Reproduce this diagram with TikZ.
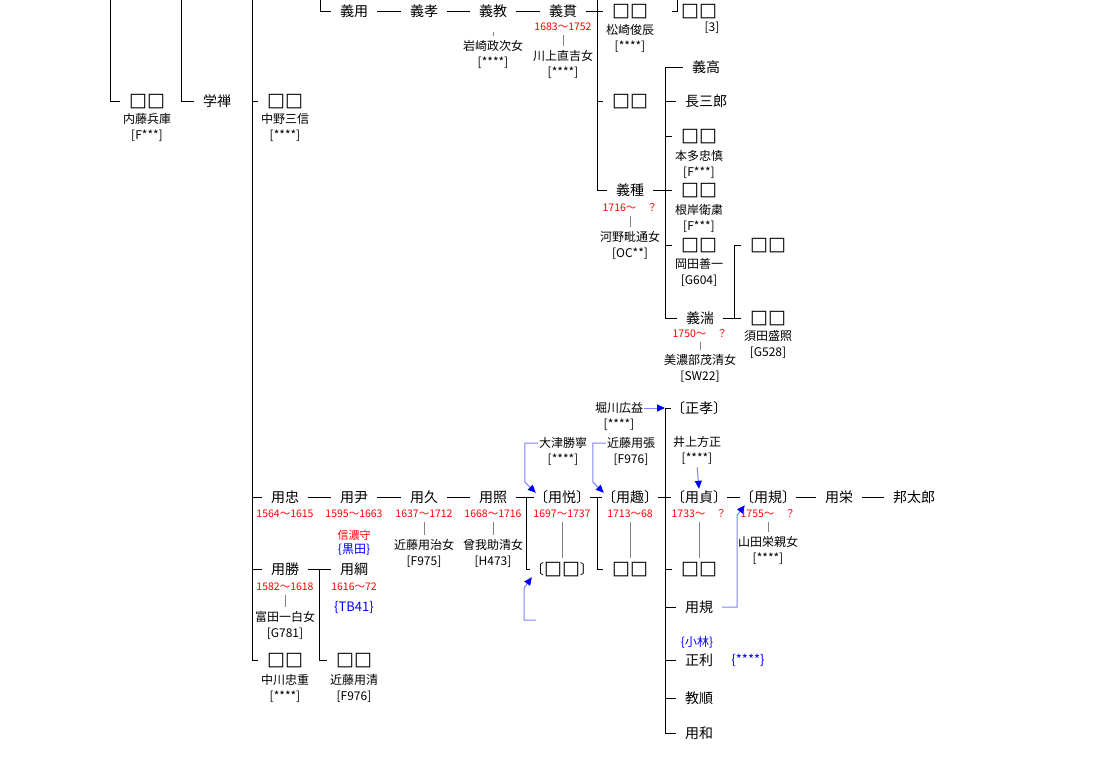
\documentclass[tikz,border=0pt]{standalone}
\usepackage{fontspec}
\setmainfont{Noto Sans CJK JP}
\newfontfamily\sqfont{DejaVu Sans}
\newcommand\sqq{{\sqfont\fontsize{19}{14}\selectfont □□}}
\usetikzlibrary{arrows.meta}
\begin{document}
\begin{tikzpicture}
  [x=1pt,y=-1pt,
   every node/.style={inner xsep=9pt,inner ysep=1pt},
   nm/.style={font=\fontsize{14}{14}\selectfont,text height=12pt,text depth=2pt},
   bk/.style={nm,inner xsep=0pt},
   sp/.style={font=\fontsize{12}{16}\selectfont,align=center,inner sep=1pt},
   yr/.style={font=\fontsize{10.5}{10.5}\selectfont,text=red,inner sep=1pt},
   nt/.style={font=\fontsize{12}{12}\selectfont,text=blue,inner sep=1pt},
   ln/.style={draw,line width=1pt},
   tick/.style={draw=gray,line width=1pt,shorten <=3pt,shorten >=3pt},
   ref/.style={draw=blue!50,line width=1pt,-{Triangle[length=8pt,width=7pt,color=blue]}}]
  \fill[white] (0,0) rectangle (1099,768);
  \useasboundingbox (0,0) rectangle (1099,768);

  % lines coming in from above, and buses
  \coordinate (lA) at (110,0);
  \coordinate (lB) at (181,0);
  \coordinate (lC) at (252,0);
  \coordinate (lD) at (320,0);
  \coordinate (lE) at (597,0);
  \coordinate (lF) at (677,0);
  \coordinate (bG) at (665,0);
  \coordinate (bH) at (734,0);
  \coordinate (bI) at (526,0);
  \coordinate (bJ) at (319,0);
  \coordinate (bK) at (597,0);

  % left
  \node[nm] (a1) at (147,101) {\sqq};
  \node[sp] (a1w) at (147,127) {内藤兵庫\\{[F***]}};
  \node[nm] (a2) at (217,101) {学禅};
  \node[nm] (a3) at (285,101) {\sqq};
  \node[sp] (a3w) at (285,127) {中野三信\\{[****]}};

  % top row
  \node[nm] (t1) at (354,12) {義用};
  \node[nm] (t2) at (424,12) {義孝};
  \node[nm] (t3) at (493,12) {義教};
  \node[sp] (t3w) at (493,54) {岩崎政次女\\{[****]}};
  \node[nm] (t4) at (563,12) {義貫};
  \node[yr] (t4d) at (563,27) {1683〜1752};
  \node[sp] (t4w) at (563,64) {川上直吉女\\{[****]}};
  \node[nm] (t5) at (630,12) {\sqq};
  \node[sp] (t5w) at (630,38) {松崎俊辰\\{[****]}};
  \node[nm] (t6) at (630,101) {\sqq};
  \node[nm] (t7) at (630,190) {義種};
  \node[yr] (t7d) at (630,208) {1716〜\quad？};
  \node[sp] (t7w) at (630,245) {河野毗通女\\{[OC**]}};
  \node[nm] (t8) at (699,12) {\sqq};
  \node[sp] (t8w) at (712,28) {{[3]}};

  % right
  \node[nm] (r1) at (706,67) {義高};
  \node[nm] (r2) at (706,101) {長三郎};
  \node[nm] (r3) at (699,136) {\sqq};
  \node[sp] (r3w) at (699,164) {本多忠慎\\{[F***]}};
  \node[nm] (r4) at (699,190) {\sqq};
  \node[sp] (r4w) at (699,218) {根岸衛粛\\{[F***]}};
  \node[nm] (r5) at (699,245) {\sqq};
  \node[sp] (r5w) at (699,272) {岡田善一\\{[G604]}};
  \node[nm] (r6) at (700,318) {義湍};
  \node[yr] (r6d) at (700,334) {1750〜\quad？};
  \node[sp] (r6w) at (700,368) {美濃部茂清女\\{[SW22]}};
  \node[nm] (r7) at (768,245) {\sqq};
  \node[nm] (r8) at (768,318) {\sqq};
  \node[sp] (r8w) at (768,344) {須田盛照\\{[G528]}};

  % bottom
  \node[nm] (m1) at (285,497) {用忠};
  \node[yr] (m1d) at (285,514) {1564〜1615};
  \node[nm] (m2) at (354,497) {用尹};
  \node[yr] (m2d) at (354,514) {1595〜1663};
  \node[yr,font=\fontsize{11}{11}\selectfont] (m2t) at (354,535) {信濃守};
  \node[nt] (m2n) at (354,550) {\{黒田\}};
  \node[nm] (m3) at (424,497) {用久};
  \node[yr] (m3d) at (424,514) {1637〜1712};
  \node[sp] (m3w) at (424,553) {近藤用治女\\{[F975]}};
  \node[nm] (m4) at (493,497) {用照};
  \node[yr] (m4d) at (493,514) {1668〜1716};
  \node[sp] (m4w) at (493,553) {曾我助清女\\{[H473]}};
  \node[bk] (m5) at (562,497) {〔用悦〕};
  \node[yr] (m5d) at (562,514) {1697〜1737};
  \node[bk] (m5b) at (562,569) {〔\sqq〕};
  \node[bk] (m6) at (630,497) {〔用趣〕};
  \node[yr] (m6d) at (630,514) {1713〜68};
  \node[nm] (m6b) at (630,569) {\sqq};
  \node[bk] (m7) at (699,497) {〔用貞〕};
  \node[yr] (m7d) at (699,514) {1733〜\quad？};
  \node[nm] (m7b) at (699,569) {\sqq};
  \node[bk] (m8) at (768,497) {〔用規〕};
  \node[yr] (m8d) at (768,514) {1755〜\quad？};
  \node[sp] (m8w) at (768,550) {山田栄親女\\{[****]}};
  \node[nm] (m9) at (839,497) {用栄};
  \node[nm] (m10) at (914,497) {邦太郎};

  \node[bk] (s1) at (699,408) {〔正孝〕};
  \node[nm] (s2) at (699,607) {用規};
  \node[nt] (s3n) at (697,642) {\{小林\}};
  \node[nm] (s3) at (699,660) {正利};
  \node[nt,font=\fontsize{13}{13}\selectfont] (s3m) at (748,660) {\{****\}};
  \node[nm] (s4) at (699,698) {教順};
  \node[nm] (s5) at (699,733) {用和};

  \node[nm] (k1) at (285,569) {用勝};
  \node[yr] (k1d) at (285,587) {1582〜1618};
  \node[sp] (k1w) at (285,625) {富田一白女\\{[G781]}};
  \node[nm] (k2) at (354,569) {用綱};
  \node[yr] (k2d) at (354,587) {1616〜72};
  \node[nt,font=\fontsize{13}{13}\selectfont] (k2n) at (354,607) {\{TB41\}};
  \node[nm] (k3) at (285,660) {\sqq};
  \node[sp] (k3w) at (285,688) {中川忠重\\{[****]}};
  \node[nm] (k4) at (354,660) {\sqq};
  \node[sp] (k4w) at (354,688) {近藤用清\\{[F976]}};

  % notes with arrows
  \node[sp] (w1) at (619,416) {堀川広益\\{[****]}};
  \node[sp] (w2) at (697,450) {井上方正\\{[****]}};
  \node[sp] (w3) at (563,451) {大津勝寧\\{[****]}};
  \node[sp] (w4) at (631,451) {近藤用張\\{[F976]}};
  \coordinate (w5) at (536,620);

  % tree lines
  \draw[ln] (lA) |- (a1.west);
  \draw[ln] (lB) |- (a2.west);
  \draw[ln] (lC) |- (k3.west);
  \foreach \n in {a3,m1,k1} \draw[ln] (lC |- \n) -- (\n.west);
  \draw[ln] (lD) |- (t1.west);
  \foreach \a/\b in {t1/t2,t2/t3,t3/t4,t4/t5,t7/r4,r6/r8,m1/m2,m2/m3,m3/m4,m4/m5,m5/m6,m6/m7,m7/m8,m8/m9,m9/m10,k1/k2}
    \draw[ln] (\a) -- (\b);
  \draw[ln] (lE) |- (t7.west);
  \draw[ln] (lE |- t6) -- (t6.west);
  \draw[ln] (lF) |- (t8.west);
  \draw[ln] (r1.west) -| (bG |- r6) -- (r6.west);
  \foreach \n in {r2,r3,r5} \draw[ln] (bG |- \n) -- (\n.west);
  \draw[ln] (bH |- r8) |- (r7.west);
  \draw[ln] (bI |- m4) |- (m5b.west);
  \draw[ln] (bK |- m5) |- (m6b.west);
  \draw[ln] (s1.west) -| (bG |- s5) -- (s5.west);
  \foreach \n in {m7b,s2,s3,s4} \draw[ln] (bG |- \n) -- (\n.west);
  \draw[ln] (bJ |- k1) |- (k4.west);

  % ticks to spouses
  \draw[tick,shorten <=12pt] (t3) -- (t3w);
  \foreach \a/\b in {t4d/t4w,t7d/t7w,r6d/r6w,m3d/m3w,m4d/m4w,m5d/m5b,m6d/m6b,m7d/m7b,m8d/m8w,k1d/k1w}
    \draw[tick] (\a) -- (\b);

  % arrows
  \draw[ref] (w1.east |- s1) -- (bG |- s1);
  \draw[ref,shorten <=2pt] (w2.south) -- (m7.north);
  \draw[ref] ([yshift=8pt]w3.west) -- ++(-13,0) -- ++(0,39) -- ([xshift=2pt,yshift=-4pt]m5.north west);
  \draw[ref] ([yshift=8pt]w4.west) -- ++(-13,0) -- ++(0,39) -- ([xshift=2pt,yshift=-4pt]m6.north west);
  \draw[ref] (w5) -- ++(-12,0) -- ++(0,-32) -- ([xshift=2pt]m5b.south west);
  \draw[ref] (s2.east) -- ++(15,0) -- ++(0,-92) -- ([xshift=5pt]m8.south west);
\end{tikzpicture}
\end{document}
